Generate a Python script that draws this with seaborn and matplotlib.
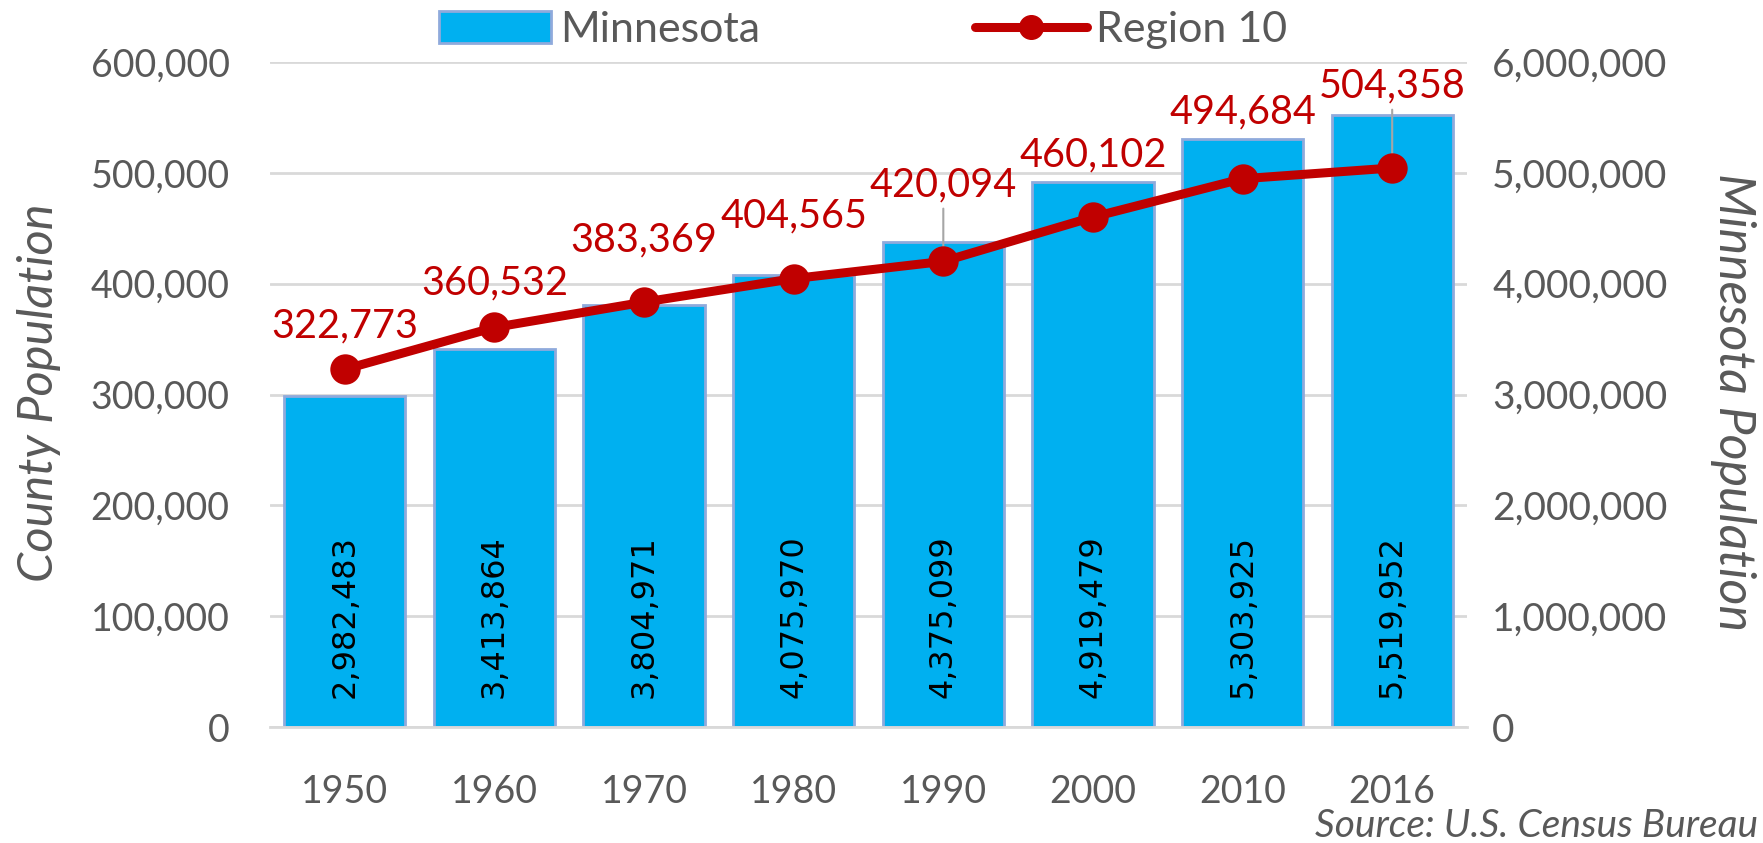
import matplotlib
matplotlib.use("Agg")
import matplotlib.pyplot as plt
import seaborn as sns
import pandas as pd
from matplotlib.patches import Patch
from matplotlib.lines import Line2D

years = ["1950", "1960", "1970", "1980", "1990", "2000", "2010", "2016"]
minnesota = [2982483, 3413864, 3804971, 4075970, 4375099, 4919479, 5303925, 5519952]
region10 = [322773, 360532, 383369, 404565, 420094, 460102, 494684, 504358]
left_ticks = [0, 100000, 200000, 300000, 400000, 500000, 600000]
right_ticks = [0, 1000000, 2000000, 3000000, 4000000, 5000000, 6000000]

# label offsets (points) above the line markers; leader line for some
label_offsets = [31, 32, 45, 45, 55, 45, 48, 59]
leaders = [False, False, False, False, True, False, False, True]

BLUE = "#00B0F0"
EDGE = "#8FAADC"
RED = "#C00000"
GRAY = "#595959"
GRID = "#D9D9D9"

sns.set_theme(style="white")
plt.rcParams["font.family"] = ["Lato", "DejaVu Sans"]

df = pd.DataFrame({"year": years, "mn": minnesota, "r10": region10})

fig = plt.figure(figsize=(17.63, 8.43), dpi=100)
ax = fig.add_axes([270 / 1763, 1 - 727 / 843, (1467 - 270) / 1763, (727 - 62) / 843])

sns.barplot(data=df, x="year", y="mn", color=BLUE, saturation=1, width=0.81,
            edgecolor=EDGE, linewidth=2, ax=ax, zorder=2)

for i, v in enumerate(minnesota):
    ax.annotate(f"{v:,}", xy=(i, 0), xytext=(0, 21), textcoords="offset points",
                rotation=90, ha="center", va="bottom", fontsize=23,
                family="DejaVu Sans", color="black", zorder=3)

ax2 = ax.twinx()
sns.pointplot(data=df, x="year", y="r10", color=RED, markers="o",
              markersize=17, linewidth=6.5, ax=ax2, zorder=4)

# bars axis (right scale)
ax.set_ylim(0, 6000000)
ax.set_yticks(right_ticks)
ax.set_yticklabels([f"{v:,}" for v in right_ticks])
ax.yaxis.tick_right()
ax.set_axisbelow(True)
ax.yaxis.grid(True, color=GRID, linewidth=2)
ax.xaxis.grid(False)
for s in ["top", "left", "right"]:
    ax.spines[s].set_visible(False)
ax.spines["bottom"].set_color(GRID)
ax.spines["bottom"].set_linewidth(2)
ax.tick_params(axis="y", length=0, pad=18, labelsize=28, labelcolor=GRAY)
ax.tick_params(axis="x", length=0, pad=34, labelsize=27, labelcolor=GRAY)
ax.set_xlabel("")
ax.set_ylabel("")

# line axis (left scale)
ax2.set_ylim(0, 600000)
ax2.set_yticks(left_ticks)
ax2.set_yticklabels([f"{v:,}" for v in left_ticks])
ax2.yaxis.tick_left()
for s in ax2.spines.values():
    s.set_visible(False)
ax2.tick_params(axis="y", length=0, pad=29, labelsize=27, labelcolor=GRAY)
ax2.tick_params(axis="x", length=0, labelbottom=False)
ax2.set_xlabel("")
ax2.set_ylabel("")
ax2.grid(False)

for i, v in enumerate(region10):
    off = label_offsets[i]
    ax2.annotate(f"{v:,}", xy=(i, v), xytext=(0, off), textcoords="offset points",
                 ha="center", va="center", fontsize=28.5, color=RED, zorder=5)
    if leaders[i]:
        ax2.annotate("", xy=(i, v), xytext=(0, off - 17), textcoords="offset points",
                     arrowprops=dict(arrowstyle="-", color="#A6A6A6", lw=1.5,
                                     shrinkA=0, shrinkB=0), zorder=3)

ax.set_xlim(-0.5, len(years) - 0.5)
ax2.set_xlim(-0.5, len(years) - 0.5)

fig.text(39 / 1763, 1 - 393 / 843, "County Population", rotation=90, ha="center",
         va="center", fontsize=35, style="italic", color=GRAY)
fig.text(1733 / 1763, 1 - 402 / 843, "Minnesota Population", rotation=-90,
         ha="center", va="center", fontsize=36, style="italic", color=GRAY)
fig.text(1758 / 1763, 1 - 826 / 843, "Source: U.S. Census Bureau", ha="right",
         va="center", fontsize=28, style="italic", color=GRAY)

handles = [Patch(facecolor=BLUE, edgecolor=EDGE, linewidth=2),
           Line2D([0], [0], color=RED, lw=6.5, marker="o", markersize=17)]
fig.legend(handles, ["Minnesota", "Region 10"], loc="center",
           bbox_to_anchor=(863 / 1763, 1 - 30 / 843), ncol=2, frameon=False,
           fontsize=31, handlelength=2.6, handleheight=0.75, columnspacing=5.0,
           handletextpad=0.2, labelcolor=GRAY)

fig.savefig("out.png", dpi=100)
